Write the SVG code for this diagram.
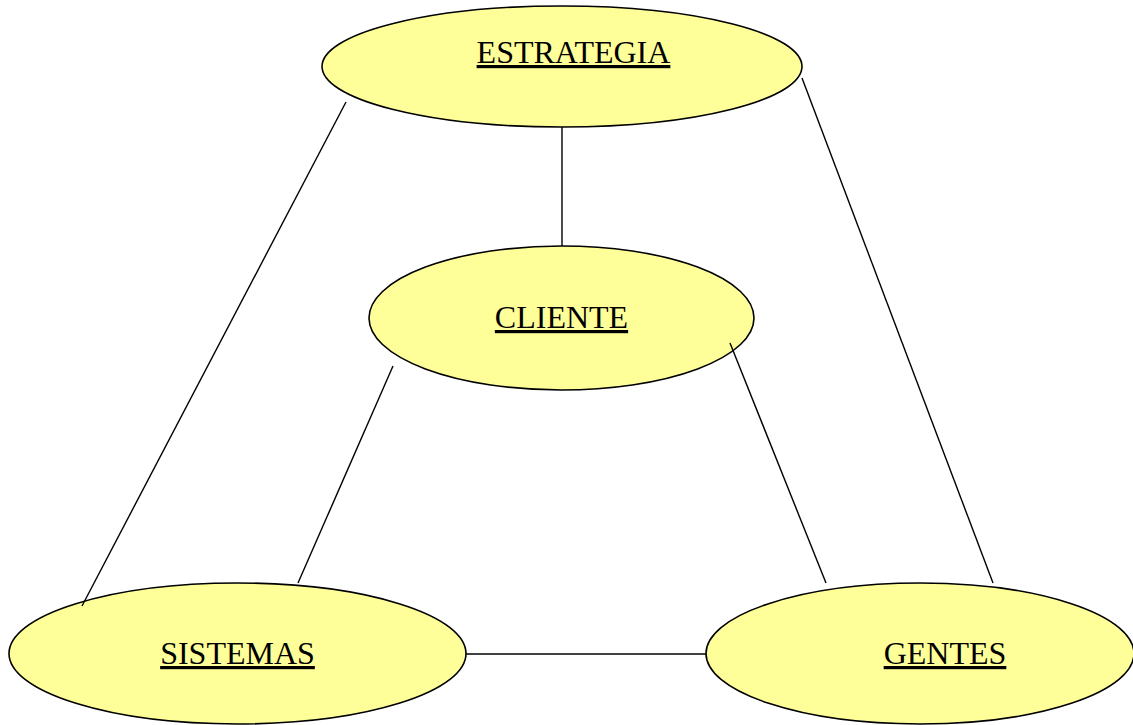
<svg xmlns="http://www.w3.org/2000/svg" width="1133" height="725" viewBox="0 0 1133 725">
  <style>
    .node ellipse { fill: #FFFF99; stroke: #000; stroke-width: 1.6; }
    .node text { font-family: "Liberation Serif", "Times New Roman", serif; font-size: 32px; fill: #000; text-anchor: middle; text-decoration: underline; }
    .links line { stroke: #000; stroke-width: 1.4; }
  </style>
  <rect width="1133" height="725" fill="#fff"/>

  <g id="estrategia" class="node">
    <ellipse cx="562" cy="66.5" rx="240" ry="60.5"/>
    <text x="573.5" y="63">ESTRATEGIA</text>
  </g>
  <g id="cliente" class="node">
    <ellipse cx="561.5" cy="318" rx="192.5" ry="72"/>
    <text x="561.5" y="328">CLIENTE</text>
  </g>
  <g id="sistemas" class="node">
    <ellipse cx="237.5" cy="653.5" rx="228.5" ry="70.5"/>
    <text x="237.5" y="664">SISTEMAS</text>
  </g>
  <g id="gentes" class="node">
    <ellipse cx="920" cy="653.5" rx="214" ry="70.5"/>
    <text x="945" y="664">GENTES</text>
  </g>

  <g id="connectors" class="links">
    <line x1="562" y1="127" x2="562" y2="246"/>
    <line x1="346" y1="102" x2="82" y2="606"/>
    <line x1="802" y1="78" x2="993" y2="583"/>
    <line x1="393" y1="366" x2="298" y2="583"/>
    <line x1="730" y1="343" x2="826" y2="583"/>
    <line x1="466" y1="654" x2="706" y2="654"/>
  </g>
</svg>
